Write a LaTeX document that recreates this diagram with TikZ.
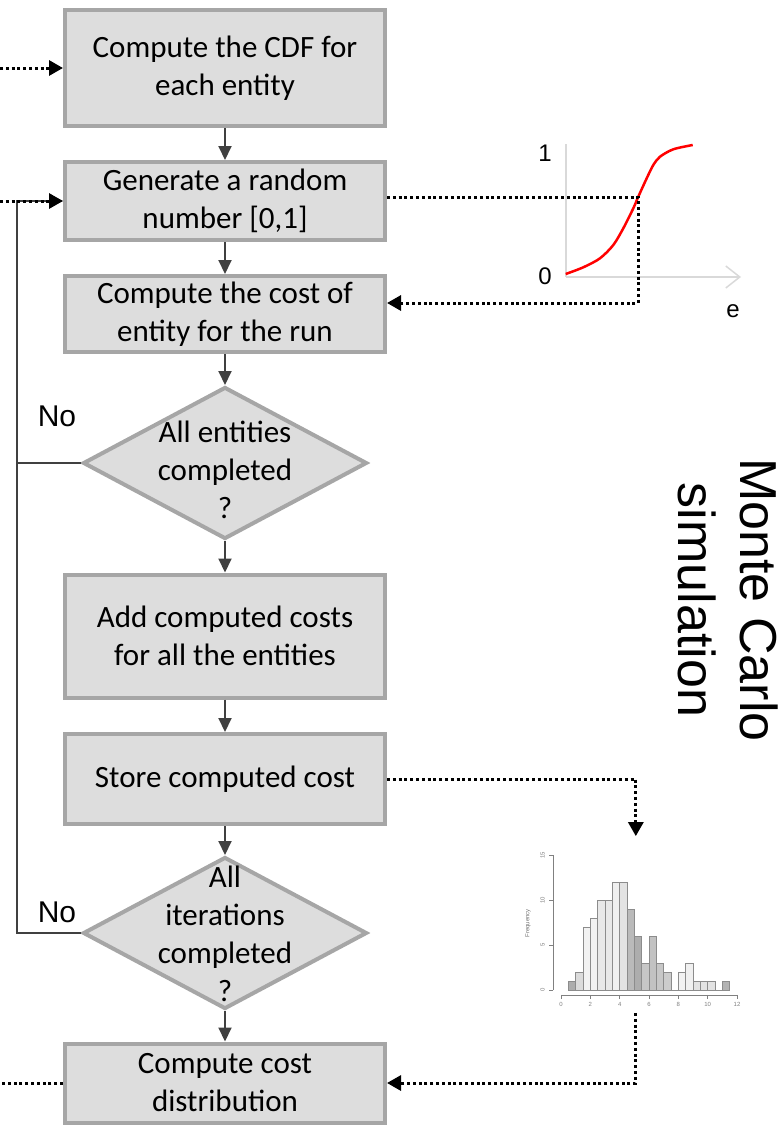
\documentclass[tikz,border=0pt]{standalone}
\usepackage{fontspec}
\setmainfont{Carlito}
\newfontfamily\arialfont{Liberation Sans}
\usetikzlibrary{arrows.meta,shapes.geometric}
\definecolor{boxfill}{HTML}{DDDDDD}
\definecolor{boxline}{HTML}{A6A6A6}
\definecolor{connline}{HTML}{404040}

\begin{document}
\begin{tikzpicture}[x=1pt,y=-1pt,font=\fontsize{31}{38}\selectfont,
box/.style={draw=boxline,fill=boxfill,line width=4pt,align=center,minimum width=320pt,inner sep=2pt},
dia/.style={draw=boxline,fill=boxfill,line width=4pt,shape=diamond,minimum width=284pt,minimum height=152pt,inner sep=0pt},
conn/.style={draw=connline,line width=2pt,-{Triangle[width=13pt,length=14pt]}},
loopline/.style={draw=connline,line width=2pt},
dotarr/.style={black,line width=3pt,dash pattern=on 3pt off 2.8pt,-{Triangle[width=15pt,length=14pt]}},
dotline/.style={black,line width=3pt,dash pattern=on 3pt off 2.8pt},
lbl/.style={font=\arialfont\fontsize{24}{28}\selectfont}]
\useasboundingbox (0,0) rectangle (783,1127);
% flow chart
\node[box,minimum height=116pt] (cdf) at (225,68) {Compute the CDF for\\each entity};
\node[box,minimum height=78pt] (rand) at (225,201) {Generate a random\\number [0,1]};
\node[box,minimum height=76pt] (cost) at (225,314) {Compute the cost of\\entity for the run};
\node[dia,label={[align=center,yshift=-7pt]center:All entities\\completed\\?}] (ent) at (225,463) {};
\node[box,minimum height=123pt] (add) at (225,636) {Add computed costs\\for all the entities};
\node[box,minimum height=90pt] (store) at (225,779) {Store computed cost};
\node[dia,label={[align=center,yshift=-1pt]center:All\\iterations\\completed\\?}] (iter) at (225,933) {};
\node[box,minimum height=79pt] (dist) at (225,1083) {Compute cost\\distribution};
\foreach \a/\b in {cdf/rand,rand/cost,cost/ent,ent/add,add/store,store/iter,iter/dist}
  \draw[conn] (\a) -- (\b);
% loops back
\coordinate (back) at (17,933);
\draw[conn] (iter.west) -- (back) |- (rand.west);
\draw[loopline] (ent.west) -- (ent.west -| back);
\node[font=\arialfont\fontsize{30}{34}\selectfont] (no1) at (57,416) {No};
\node[font=\arialfont\fontsize{30}{34}\selectfont] (no2) at (57,912) {No};
% outside links
\coordinate (in1) at (0,68);
\coordinate (in2) at (0,201);
\coordinate (out) at (0,1083);
\draw[dotarr] (in1) -- (cdf.west);
\draw[dotarr] (in2) -- (rand.west);
\draw[dotline] (dist.west) -- (out);
% CDF plot
\coordinate (orig) at (566,277);
\draw[black!15,line width=1.5pt] (566,144) -- (orig);
\draw[black!15,line width=1.5pt,-{Straight Barb[length=14pt,width=22pt]}] (orig) -- (741,277);
\draw[red,line width=2.5pt] plot[smooth] coordinates {(565.7,274) (583.3,267.3) (600,258.3) (613.3,245) (623.3,228.3) (633.3,208.3) (638.3,196.7) (646.7,178.3) (653.3,165) (660,156.7) (673.3,149.3) (692.7,145)};
\node[lbl] (one) at (545,153) {1};
\node[lbl] (zero) at (545,276) {0};
\node[lbl] (e) at (733,311) {e};
\coordinate (hit) at (638,197);
\coordinate (pick) at (638,303);
\draw[dotarr] (rand.east |- hit) -- (hit) -- (pick) -- (pick -| cost.east);
% histogram
\begin{scope}[shift={(561,990)},x=14.67pt,y=9pt,font=\arialfont\fontsize{6}{7}\selectfont,text=black!55]
\foreach \h/\c [count=\i] in {1/32,2/14,7/5,8/5,10/9,10/9,12/6,12/11,9/27,6/32,3/22,6/24,3/22,2/20,0/5,2/5,3/6,1/11,1/11,1/11,0/5,1/30}
  \draw[black!45,fill=black!\c,line width=0.6pt] (0.5*\i,0) rectangle (0.5*\i+0.5,\h);
\draw[black!50,line width=0.8pt] (-0.55,0) -- (-0.55,15);
\foreach \v in {0,5,10,15}
  \draw[black!50,line width=0.8pt] (-0.55,\v) -- (-0.85,\v) node[rotate=90,anchor=south] {\v};
\draw[black!50,line width=0.8pt] (0,-0.55) -- (12,-0.55);
\foreach \v in {0,2,...,12}
  \draw[black!50,line width=0.8pt] (\v,-0.55) -- (\v,-0.95) node[below=0pt] {\v};
\node[rotate=90] (freq) at (-2.25,7.4) {Frequency};
\coordinate (htop) at (5.1,17.1);
\coordinate (hbot) at (5.1,-2.55);
\end{scope}
\draw[dotarr] (store.east) -| (htop);
\draw[dotarr] (hbot) |- (dist.east);
% side title
\node[font=\arialfont\fontsize{52}{62}\selectfont,rotate=-90,align=center] (mc) at (728,600) {Monte Carlo\\simulation};
\end{tikzpicture}
\end{document}
